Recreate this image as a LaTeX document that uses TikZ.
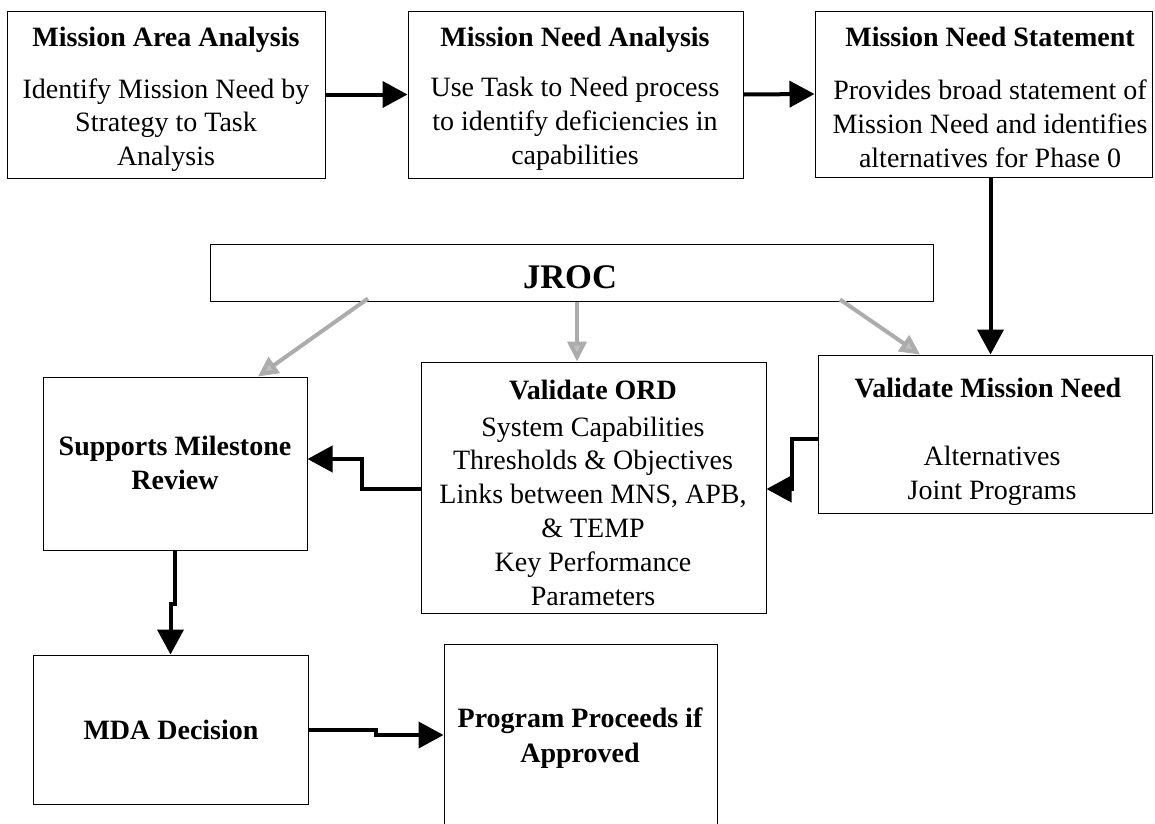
\documentclass[tikz,border=0pt]{standalone}
\usepackage{fontspec}
\setmainfont{Liberation Serif}
\usetikzlibrary{arrows.meta,calc}
\begin{document}
\begin{tikzpicture}[x=1pt,y=-1pt,
  box/.style={draw=black,line width=1pt,inner sep=0pt},
  txt/.style={inner sep=0pt,align=center,font=\fontsize{28}{33.8}\selectfont},
  ttl/.style={txt,font=\fontsize{28}{34.5}\selectfont\bfseries},
  ttlone/.style={inner sep=0pt,text height=19pt,text depth=6pt,font=\fontsize{28}{34.5}\selectfont\bfseries},
  blk/.style={draw=black,line width=4pt,-{Triangle[length=25pt,width=26pt]}},
  gry/.style={draw=gray!65,line width=4pt,-{Triangle[length=20pt,width=19pt,fill=gray!50,color=gray!65]}}]
\useasboundingbox (0,0) rectangle (1155,823);
\fill[white] (0,0) rectangle (1155,823);
% boxes
\node[box,minimum width=318pt,minimum height=167pt] (b1) at (166,94.5) {};
\node[box,minimum width=335pt,minimum height=167pt] (b2) at (575.5,94.5) {};
\node[box,minimum width=337pt,minimum height=166pt] (b3) at (983.5,94) {};
\node[box,minimum width=723pt,minimum height=57pt] (jroc) at (571.5,272.5) {};
\node[box,minimum width=264pt,minimum height=173pt] (sup) at (175,463.5) {};
\node[box,minimum width=345pt,minimum height=251pt] (vord) at (593.5,487.5) {};
\node[box,minimum width=334pt,minimum height=158pt] (vmn) at (985,434) {};
\node[box,minimum width=275pt,minimum height=149pt] (mda) at (170.5,729.5) {};
\node[box,minimum width=273pt,minimum height=182pt] (prog) at (580.5,735) {};
% texts
\node[ttlone] (t1) at (166,40) {Mission Area Analysis};
\node[txt] (t1b) at (166,125) {Identify Mission Need by\\Strategy to Task\\Analysis};
\node[ttlone] (t2) at (575,40) {Mission Need Analysis};
\node[txt] (t2b) at (575,124) {Use Task to Need process\\to identify deficiencies in\\capabilities};
\node[ttlone] (t3) at (990,40) {Mission Need Statement};
\node[txt] (t3b) at (990,124) {Provides broad statement of\\Mission Need and identifies\\alternatives for Phase 0};
\node[inner sep=0pt,font=\fontsize{34.5}{40}\selectfont\bfseries] (tj) at (570,277) {JROC};
\node[ttl] (ts) at (175,463) {Supports Milestone\\Review};
\node[ttlone] (tv) at (593,393) {Validate ORD};
\node[txt] (tvb) at (593,511) {System Capabilities\\Thresholds \& Objectives\\Links between MNS, APB,\\\& TEMP\\Key Performance\\Parameters};
\node[ttlone] (tm) at (988,391) {Validate Mission Need};
\node[txt] (tmb) at (992,476) {Alternatives\\Joint Programs};
\node[ttlone] (td) at (171,733) {MDA Decision};
\node[ttl] (tp) at (580,738) {Program Proceeds if\\Approved};
% black connectors
\draw[blk] (b1.east) -- (b2.west);
\draw[blk] (b2.east) -- (b3.west);
\draw[blk] ([xshift=7pt]b3.south) -- ([xshift=7pt]b3.south |- vmn.north);
\draw[blk] ([yshift=-5pt]vmn.west) -- ++(-26,0) |- ([yshift=-1.5pt]vord.east);
\draw[blk] ([yshift=-1.5pt]vord.west) -- ++(-59,0) |- ([yshift=4.5pt]sup.east);
\draw[blk] (sup.south) -- ++(0,53) -| (mda.north);
\draw[blk] (mda.east) -- ++(67,0) |- (prog.west);
% gray connectors
\draw[gry] ([xshift=-203.5pt,yshift=3pt]jroc.south) -- ([xshift=83pt]sup.north);
\draw[gry] ([xshift=5.5pt]jroc.south) -- ([xshift=5.5pt]jroc.south |- vord.north);
\draw[gry] ([xshift=268.5pt,yshift=2pt]jroc.south) -- ([xshift=-65pt]vmn.north);
\end{tikzpicture}
\end{document}
